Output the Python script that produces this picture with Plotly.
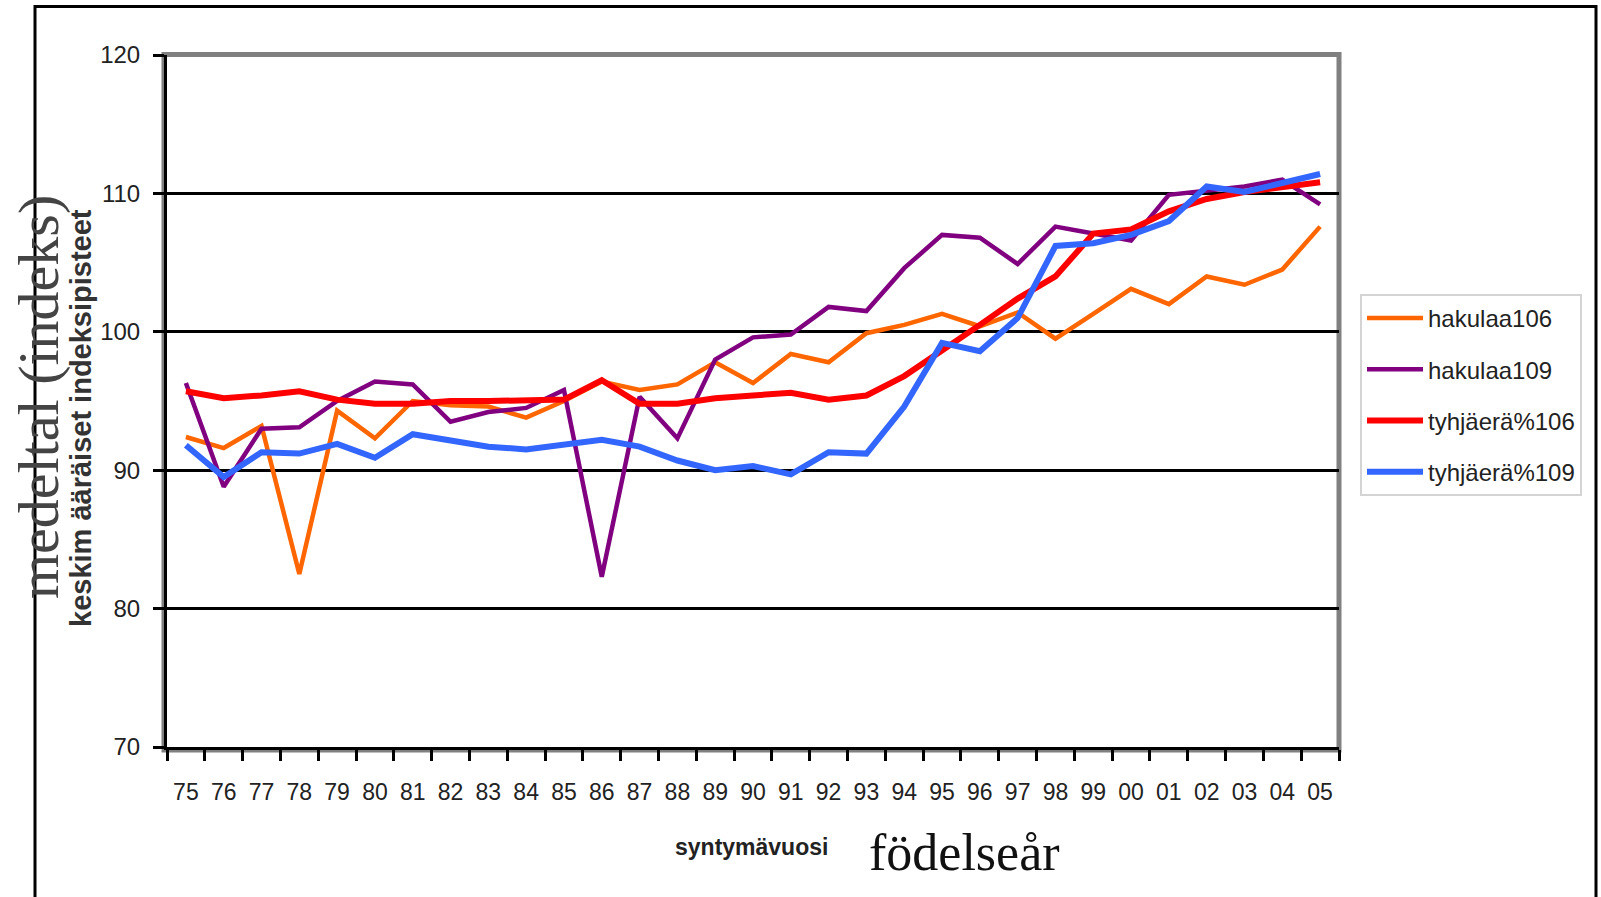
import plotly.graph_objects as go

years = ["75", "76", "77", "78", "79", "80", "81", "82", "83", "84", "85", "86", "87", "88", "89",
         "90", "91", "92", "93", "94", "95", "96", "97", "98", "99", "00", "01", "02", "03", "04", "05"]

hakulaa106 = [92.4, 91.6, 93.2, 82.5, 94.3, 92.3, 95.0, 94.7, 94.6, 93.8, 95.0, 96.4, 95.8, 96.2, 97.8,
              96.3, 98.4, 97.8, 99.9, 100.5, 101.3, 100.4, 101.4, 99.5, 101.3, 103.1, 102.0, 104.0, 103.4, 104.5, 107.6]
hakulaa109 = [96.3, 88.8, 93.0, 93.1, 95.0, 96.4, 96.2, 93.5, 94.2, 94.5, 95.8, 82.3, 95.3, 92.3, 98.0,
              99.6, 99.8, 101.8, 101.5, 104.6, 107.0, 106.8, 104.9, 107.6, 107.1, 106.6, 109.9, 110.2, 110.5, 111.0, 109.2]
tyhja106 = [95.7, 95.2, 95.4, 95.7, 95.1, 94.8, 94.8, 95.0, 95.0, 95.0, 95.1, 96.5, 94.8, 94.8, 95.2,
            95.4, 95.6, 95.1, 95.4, 96.8, 98.6, 100.5, 102.4, 104.0, 107.1, 107.4, 108.7, 109.6, 110.1, 110.4, 110.8]
tyhja109 = [91.8, 89.5, 91.3, 91.2, 91.9, 90.9, 92.6, 92.1, 91.7, 91.5, 91.9, 92.2, 91.7, 90.7, 90.0,
            90.3, 89.7, 91.3, 91.2, 94.6, 99.2, 98.6, 101.0, 106.2, 106.4, 107.0, 108.0, 110.5, 110.1, 110.7, 111.4]

series_names = ["hakulaa106", "hakulaa109", "tyhjäerä%106", "tyhjäerä%109"]
series_values = [hakulaa106, hakulaa109, tyhja106, tyhja109]
series_colors = ["#FF6600", "#800080", "#FF0000", "#3366FF"]
series_widths = [4.5, 4.5, 6, 6]

W, H = 1601, 897
PL, PR, PT, PB = 167, 1339, 55, 747
L, T, R, B = PL, PT, W - PR, H - PB
PW, PH = PR - PL, PB - PT


def px(x):
    return (x - PL) / PW


def py(y):
    return (PB - y) / PH


SANS = "Liberation Sans, Arial, sans-serif"
SERIF = "Liberation Serif, Times New Roman, DejaVu Serif, serif"

fig = go.Figure()
for i, (name, vals, col, w) in enumerate(zip(series_names, series_values, series_colors, series_widths)):
    fig.add_trace(go.Scatter(
        x=years, y=vals, name=name, mode="lines",
        line=dict(color=col, width=w),
        legendgroup=f"g{i}",
    ))

fig.update_layout(
    width=W, height=H,
    margin=dict(l=L, r=R, t=T, b=B, autoexpand=False),
    paper_bgcolor="white", plot_bgcolor="white",
    showlegend=True,
    legend=dict(
        x=px(1360), y=py(294), xanchor="left", yanchor="top",
        bgcolor="white", bordercolor="#d4d4d4", borderwidth=2,
        font=dict(family=SANS, size=24, color="#222"),
        traceorder="grouped", tracegroupgap=17, itemwidth=56,
    ),
    xaxis=dict(
        type="category", categoryorder="array", categoryarray=years,
        showgrid=False, zeroline=False,
        showline=True, linecolor="black", linewidth=3,
        ticks="outside", ticklen=11, tickwidth=2.5, tickcolor="black",
        tickson="boundaries", ticklabelstandoff=22, tickangle=0,
        tickfont=dict(family=SANS, size=23, color="#222"),
        range=[-0.5, 30.5],
    ),
    yaxis=dict(
        range=[70, 120], tickvals=[70, 80, 90, 100, 110, 120],
        showgrid=True, gridcolor="black", gridwidth=2.5,
        zeroline=False,
        showline=True, linecolor="black", linewidth=3,
        ticks="outside", ticklen=11, tickwidth=2.5, tickcolor="black",
        ticklabelstandoff=8,
        tickfont=dict(family=SANS, size=24, color="#222"),
    ),
)

shapes = [
    dict(type="rect", xref="paper", yref="paper", x0=px(164), x1=px(1339), y0=py(750), y1=py(54.5),
         line=dict(color="#808080", width=5), fillcolor="rgba(0,0,0,0)", layer="below"),
    dict(type="rect", xref="paper", yref="paper", x0=px(35), x1=px(1596), y0=py(905), y1=py(6.5),
         line=dict(color="black", width=3), fillcolor="rgba(0,0,0,0)", layer="above"),
]
fig.update_layout(shapes=shapes)

annotations = [
    dict(text="medeltal (indeks)", x=px(39), y=py(397), xref="paper", yref="paper",
         showarrow=False, textangle=-90, font=dict(family=SERIF, size=58, color="#444"),
         xanchor="center", yanchor="middle"),
    dict(text="<b>keskim ääräiset indeksipisteet</b>", x=px(81), y=py(418), xref="paper", yref="paper",
         showarrow=False, textangle=-90, font=dict(family=SANS, size=29, color="#333"),
         xanchor="center", yanchor="middle"),
    dict(text="<b>syntymävuosi</b>", x=px(751), y=py(847), xref="paper", yref="paper",
         showarrow=False, font=dict(family=SANS, size=23, color="#222"),
         xanchor="center", yanchor="middle"),
    dict(text="födelseår", x=px(964), y=py(852), xref="paper", yref="paper",
         showarrow=False, font=dict(family=SERIF, size=52, color="#111"),
         xanchor="center", yanchor="middle"),
]
fig.update_layout(annotations=annotations)

fig.write_html(
    "out.html",
    config={"displayModeBar": False},
    post_script="document.body.style.margin='0';document.body.style.overflow='hidden';",
)
